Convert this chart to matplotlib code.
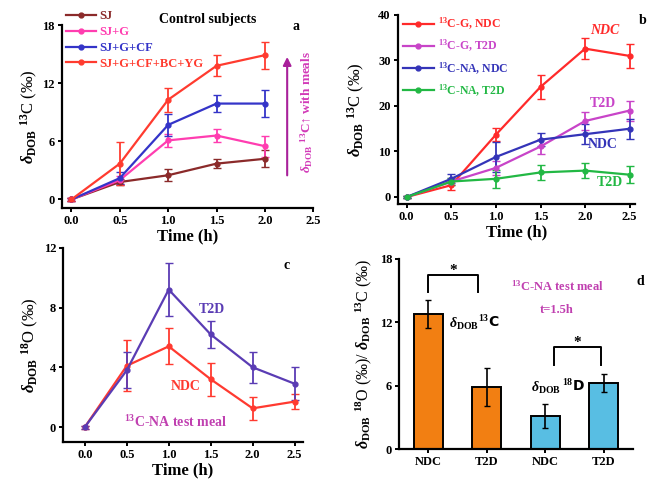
import numpy as np
import matplotlib
matplotlib.use('Agg')
import matplotlib.pyplot as plt

plt.rcParams['font.family'] = ['Liberation Serif', 'DejaVu Serif']
plt.rcParams['font.weight'] = 'bold'
plt.rcParams['mathtext.fontset'] = 'custom'
plt.rcParams['mathtext.rm'] = 'Liberation Serif:bold'
plt.rcParams['mathtext.it'] = 'Liberation Serif:italic:bold'
plt.rcParams['mathtext.bf'] = 'Liberation Serif:bold'
plt.rcParams['axes.linewidth'] = 1.6
plt.rcParams['xtick.major.width'] = 1.4
plt.rcParams['ytick.major.width'] = 1.4
plt.rcParams['xtick.major.size'] = 3
plt.rcParams['ytick.major.size'] = 3
plt.rcParams['xtick.labelsize'] = 9
plt.rcParams['ytick.labelsize'] = 9

# ---- panel a data (control subjects) ----
time_a = [0.0, 0.5, 1.0, 1.5, 2.0]
labels_a = ['SJ', 'SJ+G', 'SJ+G+CF', 'SJ+G+CF+BC+YG']
colors_a = ['#8b2a2a', '#ff3db0', '#3434c8', '#ff3b2f']
vals_a = [[0, 1.8, 2.5, 3.7, 4.2],
          [0, 2.0, 6.1, 6.6, 5.5],
          [0, 2.2, 7.7, 9.9, 9.9],
          [0, 3.7, 10.3, 13.8, 14.9]]
errs_a = [[0.2, 0.3, 0.6, 0.5, 0.9],
          [0.2, 0.4, 0.7, 0.7, 1.1],
          [0.2, 0.6, 1.1, 0.85, 1.4],
          [0.2, 2.2, 1.25, 1.1, 1.4]]

# ---- panel b data ----
time_b = [0.0, 0.5, 1.0, 1.5, 2.0, 2.5]
labels_b = ['$^{13}$C-G, NDC', '$^{13}$C-G, T2D', '$^{13}$C-NA, NDC', '$^{13}$C-NA, T2D']
colors_b = ['#ff2a2a', '#c844c8', '#3434b8', '#22b844']
vals_b = [[0, 2.6, 13.7, 24.2, 32.6, 31.0],
          [0, 3.4, 6.4, 11.1, 16.7, 19.0],
          [0, 4.0, 8.8, 12.6, 13.8, 15.0],
          [0, 3.4, 4.0, 5.4, 5.8, 4.9]]
errs_b = [[0.3, 1.0, 1.5, 2.6, 2.3, 2.6],
          [0.3, 0.8, 1.5, 1.6, 2.0, 2.2],
          [0.3, 1.0, 3.3, 1.5, 2.2, 2.2],
          [0.3, 0.8, 2.0, 1.6, 1.6, 1.9]]

# ---- panel c data ----
time_c = [0.0, 0.5, 1.0, 1.5, 2.0, 2.5]
t2d_c = [0, 3.8, 9.2, 6.2, 4.0, 2.9]
t2d_c_err = [0.1, 1.2, 1.8, 0.9, 1.05, 1.1]
ndc_c = [0, 4.1, 5.4, 3.2, 1.25, 1.7]
ndc_c_err = [0.1, 1.7, 1.2, 1.1, 0.75, 0.5]

# ---- panel d data ----
groups_d = ['NDC', 'T2D', 'NDC', 'T2D']
vals_d = [12.8, 5.9, 3.15, 6.3]
errs_d = [1.3, 1.8, 1.1, 0.85]
colors_d = ['#f27f12', '#f27f12', '#58bee3', '#58bee3']

fig = plt.figure(figsize=(6.5, 4.83), dpi=100)
ax_a = fig.add_axes([0.095, 0.569, 0.387, 0.379])
ax_b = fig.add_axes([0.612, 0.578, 0.365, 0.391])
ax_c = fig.add_axes([0.097, 0.085, 0.369, 0.402])
ax_d = fig.add_axes([0.614, 0.070, 0.360, 0.394])

for ax in (ax_a, ax_b, ax_c, ax_d):
    ax.spines['top'].set_visible(False)
    ax.spines['right'].set_visible(False)
    ax.tick_params(direction='out', pad=2)

ylab13 = r'$\delta_{\mathrm{DOB}}$ $^{13}$C (‰)'
ylab18 = r'$\delta_{\mathrm{DOB}}$ $^{18}$O (‰)'
ticks_t = [0.0, 0.5, 1.0, 1.5, 2.0, 2.5]
tlabels_t = ['0.0', '0.5', '1.0', '1.5', '2.0', '2.5']

# panel a
handles = []
for v, e, c, l in zip(vals_a, errs_a, colors_a, labels_a):
    cont = ax_a.errorbar(time_a, v, yerr=e, color=c, marker='o', ms=3.5, lw=1.6,
                         capsize=3, elinewidth=1.3, label=l)
    handles.append(cont[0])
ax_a.set_xlim(-0.1, 2.5)
ax_a.set_ylim(-0.9, 18)
ax_a.set_xticks(ticks_t)
ax_a.set_xticklabels(tlabels_t)
ax_a.set_yticks([0, 6, 12, 18])
ax_a.set_xlabel('Time (h)', fontsize=12, fontweight='bold', labelpad=1)
ax_a.set_ylabel(ylab13, fontsize=12, labelpad=2)
leg = ax_a.legend(handles, labels_a, loc='upper left', bbox_to_anchor=(0.015, 1.08),
                  frameon=False, fontsize=9, handlelength=2.4, handletextpad=0.3,
                  labelspacing=0.3, borderpad=0, borderaxespad=0)
for t, c in zip(leg.get_texts(), colors_a):
    t.set_color(c)
ax_a.text(0.58, 1.03, 'Control subjects', transform=ax_a.transAxes,
          fontsize=10, ha='center', va='center')
ax_a.text(0.93, 0.99, 'a', transform=ax_a.transAxes, fontsize=10, ha='center', va='center')
ax_a.annotate('', xy=(2.23, 15.0), xytext=(2.23, 2.2),
              arrowprops=dict(arrowstyle='-|>', color='#a8209a', lw=1.5, mutation_scale=12))
ax_a.text(2.43, 9.0, r'$\delta_{\mathrm{DOB}}$ $^{13}$C↑ with meals', color='#d23ab8',
          fontsize=9.5, rotation=90, ha='center', va='center',
          family=['Liberation Serif', 'DejaVu Sans'])

# panel b
handles = []
for v, e, c, l in zip(vals_b, errs_b, colors_b, labels_b):
    cont = ax_b.errorbar(time_b, v, yerr=e, color=c, marker='o', ms=3.5, lw=1.6,
                         capsize=3, elinewidth=1.3, label=l)
    handles.append(cont[0])
ax_b.set_xlim(-0.1, 2.56)
ax_b.set_ylim(-1.5, 40)
ax_b.set_xticks(ticks_t)
ax_b.set_xticklabels(tlabels_t)
ax_b.set_yticks([0, 10, 20, 30, 40])
ax_b.set_xlabel('Time (h)', fontsize=12, fontweight='bold', labelpad=1)
ax_b.set_ylabel(ylab13, fontsize=12, labelpad=8)
leg = ax_b.legend(handles, labels_b, loc='upper left', bbox_to_anchor=(0.02, 0.995),
                  frameon=False, fontsize=8.5, handlelength=2.7, handletextpad=0.3,
                  labelspacing=0.5, borderpad=0, borderaxespad=0)
for t, c in zip(leg.get_texts(), colors_b):
    t.set_color(c)
ax_b.text(2.22, 36.5, 'NDC', color='#ff2a2a', fontsize=10, style='italic', ha='center', va='center')
ax_b.text(2.2, 20.5, 'T2D', color='#c844c8', fontsize=10, ha='center', va='center')
ax_b.text(2.2, 11.5, 'NDC', color='#3434b8', fontsize=10, ha='center', va='center')
ax_b.text(2.28, 3.2, 'T2D', color='#22b844', fontsize=10, ha='center', va='center')
ax_b.text(1.03, 0.97, 'b', transform=ax_b.transAxes, fontsize=10, ha='center', va='center')

# panel c
ax_c.errorbar(time_c, ndc_c, yerr=ndc_c_err, color='#ff3a30', marker='o', ms=3.5, lw=1.6,
              capsize=3, elinewidth=1.3)
ax_c.errorbar(time_c, t2d_c, yerr=t2d_c_err, color='#5a3cb4', marker='o', ms=3.5, lw=1.6,
              capsize=3, elinewidth=1.3)
ax_c.set_xlim(-0.26, 2.6)
ax_c.set_ylim(-1.0, 12)
ax_c.set_xticks(ticks_t)
ax_c.set_xticklabels(tlabels_t)
ax_c.set_yticks([0, 4, 8, 12])
ax_c.set_xlabel('Time (h)', fontsize=12, fontweight='bold', labelpad=1)
ax_c.set_ylabel(ylab18, fontsize=12, labelpad=2)
ax_c.text(1.52, 7.9, 'T2D', color='#5a3cb4', fontsize=10, ha='center', va='center')
ax_c.text(1.2, 2.7, 'NDC', color='#ff3a30', fontsize=10, ha='center', va='center')
ax_c.text(1.08, 0.3, '$^{13}$C-NA test meal', color='#c040b0', fontsize=10, ha='center', va='center')
ax_c.text(0.93, 0.91, 'c', transform=ax_c.transAxes, fontsize=10, ha='center', va='center')

# panel d
xpos = np.arange(len(groups_d))
ax_d.bar(xpos, vals_d, width=0.5, color=colors_d, edgecolor='black', linewidth=1.4,
         yerr=errs_d, error_kw=dict(ecolor='black', elinewidth=1.2, capsize=2))
ax_d.set_xlim(-0.5, 3.5)
ax_d.set_ylim(0, 18)
ax_d.set_xticks(xpos)
ax_d.set_xticklabels(groups_d, fontsize=9)
ax_d.set_yticks([0, 6, 12, 18])
ax_d.set_ylabel(r'$\delta_{\mathrm{DOB}}$ $^{18}$O (‰)/ $\delta_{\mathrm{DOB}}$ $^{13}$C (‰)',
                fontsize=11.5, labelpad=4)
ax_d.plot([0, 0, 0.85, 0.85], [14.9, 16.5, 16.5, 14.9], color='black', lw=1.4)
ax_d.text(0.42, 16.9, '*', fontsize=11, ha='center', va='center')
ax_d.plot([2.15, 2.15, 2.95, 2.95], [8.0, 9.7, 9.7, 8.0], color='black', lw=1.4)
ax_d.text(2.55, 10.1, '*', fontsize=11, ha='center', va='center')
ax_d.text(2.2, 15.4, '$^{13}$C-NA test meal', color='#c040b0', fontsize=9, ha='center', va='center')
ax_d.text(2.2, 13.2, 't=1.5h', color='#c040b0', fontsize=9, ha='center', va='center')
ax_d.text(0.35, 11.8, r'$\delta_{\mathrm{DOB}}$', fontsize=10, ha='left', va='center')
ax_d.text(0.85, 12.0, '$^{13}$C', fontsize=10, ha='left', va='center',
          family=['DejaVu Sans'])
ax_d.text(1.76, 5.8, r'$\delta_{\mathrm{DOB}}$', fontsize=10, ha='left', va='center')
ax_d.text(2.28, 6.0, '$^{18}$D', fontsize=10, ha='left', va='center',
          family=['DejaVu Sans'])
ax_d.text(1.03, 0.88, 'd', transform=ax_d.transAxes, fontsize=10, ha='center', va='center')

fig.savefig('out.png', dpi=100)
